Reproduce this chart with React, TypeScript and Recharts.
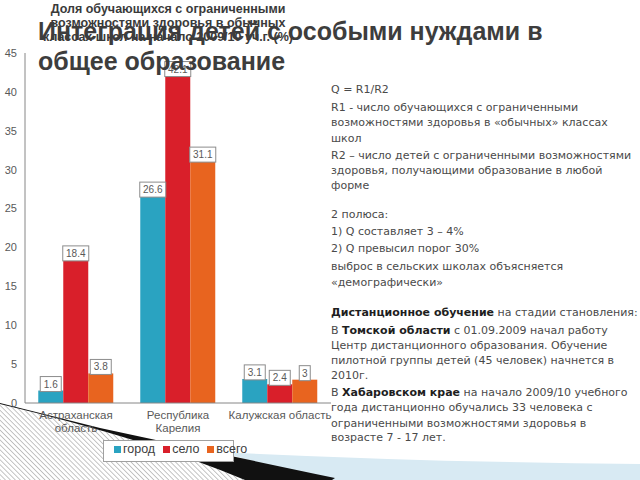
import React from "react";
import { Bar, BarChart, LabelList, XAxis, YAxis } from "recharts";

const categories = ["Астраханская область", "Республика Карелия", "Калужская область"];
const categoryLines = [["Астраханская", "область"], ["Республика", "Карелия"], ["Калужская область"]];
const cityValues = [1.6, 26.6, 3.1];
const villageValues = [18.4, 42.1, 2.4];
const totalValues = [3.8, 31.1, 3];
const yTicks = [0, 5, 10, 15, 20, 25, 30, 35, 40, 45];

const seriesNames = ["город", "село", "всего"];
const seriesColors = ["#2aa3c1", "#d91f2a", "#e8641f"];

const chartTitle = [
  "Доля обучающихся с ограниченными",
  "возможностями здоровья в обычных",
  "классах школ на начало 2009/10 уч.г. (%)",
];
const slideTitle = ["Интеграция детей с особыми нуждами в", "общее образование"];

// each line: [center y, parts], bold parts marked with a leading "*"
const noteLines: [number, string[]][] = [
  [90, ["Q = R1/R2"]],
  [108, ["R1 - число обучающихся с ограниченными"]],
  [123, ["возможностями здоровья в «обычных» классах"]],
  [139, ["школ"]],
  [156, ["R2 – число детей с ограниченными возможностями"]],
  [171, ["здоровья, получающими образование в любой"]],
  [186, ["форме"]],
  [215, ["2 полюса:"]],
  [232, ["1) Q составляет 3 – 4%"]],
  [249, ["2) Q превысил порог 30%"]],
  [267, ["выброс в сельских школах объясняется"]],
  [283, ["«демографически»"]],
  [313, ["*Дистанционное обучение", " на стадии становления:"]],
  [331, ["В ", "*Томской области", " с 01.09.2009 начал работу"]],
  [346, ["Центр дистанционного образования. Обучение"]],
  [361, ["пилотной группы детей (45 человек) начнется в"]],
  [376, ["2010г."]],
  [393, ["В ", "*Хабаровском крае", " на начало 2009/10 учебного"]],
  [408, ["года дистанционно обучались 33 человека с"]],
  [424, ["ограниченными возможностями здоровья в"]],
  [438, ["возрасте 7 - 17 лет."]],
];

const data = categories.map((name, i) => ({
  name,
  city: cityValues[i],
  village: villageValues[i],
  total: totalValues[i],
}));

const CategoryTick = (props: any) => {
  const { x, y, payload } = props;
  const lines = categoryLines[payload.index] || [payload.value];
  return (
    <text x={x} y={y + 8} textAnchor="middle" fill="#595959" fontSize={11.5}>
      {lines.map((l: string, i: number) => (
        <tspan key={i} x={x} dy={i === 0 ? 0 : 13}>
          {l}
        </tspan>
      ))}
    </text>
  );
};

const ValueBox = (props: any) => {
  const { x, y, width, value } = props;
  const s = String(value);
  const w = s.length * 5 + 6;
  const cx = x + width / 2;
  return (
    <g>
      <rect x={cx - w / 2} y={y - 14} width={w} height={15} fill="#fff" stroke="#8c8c8c" />
      <text x={cx} y={y - 3} textAnchor="middle" fontSize={10} fill="#595959">
        {s}
      </text>
    </g>
  );
};

export default function App() {
  const keys = ["city", "village", "total"];
  return (
    <div
      style={{
        position: "absolute",
        left: 0,
        top: 0,
        width: 640,
        height: 480,
        background: "#fff",
        overflow: "hidden",
        fontFamily: "'Liberation Sans', Arial, sans-serif",
      }}
    >
      <svg width={640} height={480} style={{ position: "absolute", left: 0, top: 0 }}>
        <defs>
          <pattern id="hatch" width={3.5} height={3.5} patternUnits="userSpaceOnUse" patternTransform="rotate(-45)">
            <line x1={0} y1={0} x2={0} y2={3.5} stroke="#8a8a8a" strokeWidth={1} />
          </pattern>
        </defs>
        <path d="M220,452 Q420,462 640,464 L640,480 L320,480 Z" fill="#d8eaf3" />
        <path d="M0,404 Q150,440 245,480 L0,480 Z" fill="url(#hatch)" />
        <path d="M0,403 L100,428 Q230,456 335,478 L332,480 L245,480 Q150,440 0,404 Z" fill="#111" />
      </svg>

      <div style={{ position: "absolute", left: 0, top: 0 }}>
        <BarChart
          width={340}
          height={480}
          data={data}
          margin={{ top: 53, right: 9, bottom: 47, left: 0 }}
          barCategoryGap="13%"
          barGap={0}
        >
          <XAxis
            dataKey="name"
            tickLine={false}
            axisLine={{ stroke: "#868686" }}
            height={30}
            interval={0}
            tick={<CategoryTick />}
          />
          <YAxis
            width={25}
            domain={[0, 45]}
            ticks={yTicks}
            interval={0}
            tickLine={false}
            tickSize={6}
            axisLine={{ stroke: "#868686" }}
            tick={{ fill: "#595959", fontSize: 11 }}
          />
          {keys.map((k, i) => (
            <Bar key={k} dataKey={k} name={seriesNames[i]} fill={seriesColors[i]} isAnimationActive={false}>
              <LabelList dataKey={k} content={<ValueBox />} />
            </Bar>
          ))}
        </BarChart>
      </div>

      <div
        style={{
          position: "absolute",
          left: 103,
          top: 440,
          width: 131,
          height: 22,
          background: "#fff",
          border: "1px solid #a0a0a0",
          boxSizing: "border-box",
          display: "flex",
          alignItems: "flex-start",
          paddingTop: 1,
          paddingLeft: 10,
          fontSize: 12.5,
          color: "#404040",
        }}
      >
        {seriesNames.map((n, i) => (
          <span key={n} style={{ display: "flex", alignItems: "center", marginRight: 8, lineHeight: "14px" }}>
            <span style={{ width: 7, height: 7, background: seriesColors[i], marginRight: 2 }} />
            {n}
          </span>
        ))}
      </div>

      {chartTitle.map((t, i) => (
        <div
          key={t}
          style={{
            position: "absolute",
            left: 0,
            width: 336,
            top: 2 + i * 14,
            textAlign: "center",
            fontSize: 12.5,
            fontWeight: "bold",
            color: "#3a3a3a",
            lineHeight: "14px",
          }}
        >
          {t}
        </div>
      ))}

      {slideTitle.map((t, i) => (
        <div
          key={t}
          style={{
            position: "absolute",
            left: 38,
            top: 16 + i * 30,
            fontSize: 25,
            fontWeight: "bold",
            color: "#3d3d3d",
            lineHeight: "30px",
            whiteSpace: "nowrap",
          }}
        >
          {t}
        </div>
      ))}

      {noteLines.map(([cy, parts], i) => (
        <div
          key={i}
          style={{
            position: "absolute",
            left: 331,
            top: cy - 7,
            fontFamily: "'DejaVu Sans', sans-serif",
            fontSize: 11,
            lineHeight: "14px",
            color: "#4a4a4a",
            whiteSpace: "nowrap",
          }}
        >
          {parts.map((p, j) =>
            p.startsWith("*") ? (
              <b key={j} style={{ color: "#1e1e1e" }}>
                {p.slice(1)}
              </b>
            ) : (
              <span key={j}>{p}</span>
            )
          )}
        </div>
      ))}
    </div>
  );
}
